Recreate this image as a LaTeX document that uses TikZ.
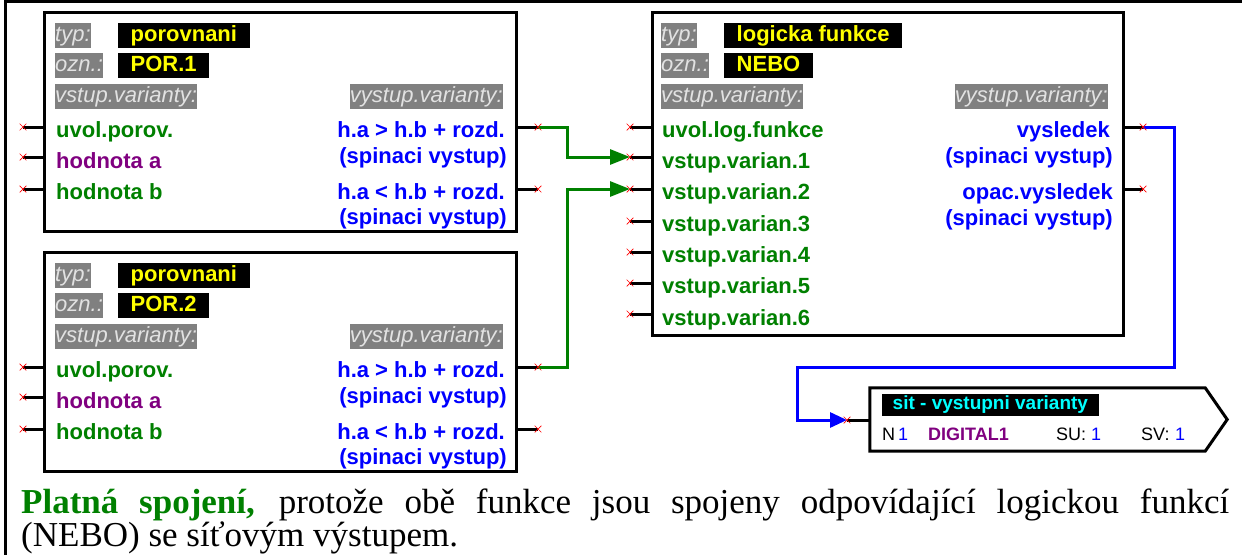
\documentclass[tikz,border=0pt]{standalone}
\usepackage{fontspec}
\setmainfont{Liberation Serif}
\setsansfont{Liberation Sans}
\usetikzlibrary{arrows.meta,shapes.misc}

\definecolor{lgreen}{RGB}{0,128,0}
\definecolor{lpurple}{RGB}{128,0,128}
\definecolor{lblue}{RGB}{0,0,255}
\definecolor{lyellow}{RGB}{255,255,0}
\definecolor{lcyan}{RGB}{0,255,255}
\definecolor{lgray}{RGB}{128,128,128}
\definecolor{labtext}{RGB}{226,226,226}

\newcommand{\sfbig}{\sffamily\fontsize{22}{22}\selectfont}
\newcommand{\sfsmall}{\sffamily\fontsize{18}{18}\selectfont}

\begin{document}
\begin{tikzpicture}[x=1pt,y=-1pt,
  blk/.style={draw, line width=3pt, fill=white, inner sep=0pt},
  lab/.style={fill=lgray, text=labtext, font=\sfbig\itshape, inner xsep=0pt,
    inner ysep=2pt, text height=16pt, text depth=5pt},
  tag/.style={fill=black, text=lyellow, font=\sfbig\bfseries, inner xsep=12.5pt,
    inner ysep=2pt, text height=16pt, text depth=5pt, anchor=north west},
  sig/.style={font=\sfbig\bfseries, inner sep=0pt},
  insig/.style={sig, anchor=base west},
  outsig/.style={sig, text=lblue, anchor=base east},
  stub/.style={line width=3pt, line cap=butt},
  xm/.style={cross out, draw=red, line width=0.7pt, minimum size=6pt, inner sep=0pt},
  gconn/.style={draw=lgreen, line width=3pt, -{Triangle[length=20pt,width=15pt]}},
  bconn/.style={draw=lblue, line width=3pt, -{Triangle[length=17pt,width=15pt]}},
  small/.style={font=\sfsmall, inner sep=0pt, anchor=base west},
  captext/.style={anchor=base west, inner sep=0pt, font=\rmfamily\fontsize{35}{36}\selectfont}
]
\useasboundingbox (0,0) rectangle (1242,555);

% outer frame (top and left edges only)
\draw[line width=3pt] (1242,1.5) -- (5.5,1.5) -- (5.5,555);

% ---------- two comparator blocks ----------
\foreach \k/\dy in {1/0,2/240}{
  \node[blk, minimum width=472pt, minimum height=219pt] (b\k) at (280,121.5+\dy) {};
  \node[lab, anchor=north west] (b\k-typ) at (55,23+\dy) {typ:};
  \node[tag] (b\k-typv) at (118,23+\dy) {porovnani};
  \node[lab, anchor=north west] (b\k-ozn) at (55,53+\dy) {ozn.:};
  \node[tag] (b\k-oznv) at (118,53+\dy) {POR.\k};
  \node[lab, anchor=north west] (b\k-vst) at (55,84+\dy) {vstup.varianty:};
  \node[lab, anchor=north east] (b\k-vys) at (503,84+\dy) {vystup.varianty:};
  \node[insig, text=lgreen]  (b\k-t1) at (56,137+\dy) {uvol.porov.};
  \node[insig, text=lpurple] (b\k-t2) at (56,168+\dy) {hodnota a};
  \node[insig, text=lgreen]  (b\k-t3) at (56,199+\dy) {hodnota b};
  \node[outsig] (b\k-r1) at (505,137+\dy) {h.a > h.b + rozd.};
  \node[outsig] (b\k-r2) at (507,163+\dy) {(spinaci vystup)};
  \node[outsig] (b\k-r3) at (505,199+\dy) {h.a < h.b + rozd.};
  \node[outsig] (b\k-r4) at (507,224+\dy) {(spinaci vystup)};
  % input pins
  \foreach \py [count=\j] in {127,157,189}{
    \coordinate (b\k-in\j) at (23,\py+\dy);
    \draw[stub] (b\k-in\j) -- (b\k.west |- b\k-in\j);
  }
  % output pins
  \foreach \py [count=\j] in {127,189}{
    \coordinate (b\k-out\j) at (538,\py+\dy);
    \draw[stub] (b\k.east |- b\k-out\j) -- (b\k-out\j);
  }
}

% ---------- logic function block ----------
\node[blk, minimum width=471pt, minimum height=323pt] (lf) at (887.5,173.5) {};
\node[lab, anchor=north west] (lf-typ) at (661,23) {typ:};
\node[tag] (lf-typv) at (724,23) {logicka funkce};
\node[lab, anchor=north west] (lf-ozn) at (661,53) {ozn.:};
\node[tag] (lf-oznv) at (724,53) {NEBO};
\node[lab, anchor=north west] (lf-vst) at (661,84) {vstup.varianty:};
\node[lab, anchor=north east] (lf-vys) at (1108,84) {vystup.varianty:};
\node[insig, text=lgreen] (lf-t1) at (662,137) {uvol.log.funkce};
\foreach \by [count=\j] in {168,199,231,262,293,325}{
  \node[insig, text=lgreen] (lf-v\j) at (662,\by) {vstup.varian.\j};
}
\node[outsig] (lf-r1) at (1110,137) {vysledek};
\node[outsig] (lf-r2) at (1113,163) {(spinaci vystup)};
\node[outsig] (lf-r3) at (1113,199) {opac.vysledek};
\node[outsig] (lf-r4) at (1113,225) {(spinaci vystup)};
\foreach \py [count=\j] in {127,157,189,221,252,283,314}{
  \coordinate (lf-in\j) at (630,\py);
  \draw[stub] (lf-in\j) -- (lf.west |- lf-in\j);
}
\foreach \py [count=\j] in {127,189}{
  \coordinate (lf-out\j) at (1143,\py);
  \draw[stub] (lf.east |- lf-out\j) -- (lf-out\j);
}

% ---------- network output block ----------
\node[inner sep=0pt, minimum width=357pt, minimum height=63pt] (net) at (1048.5,419.5) {};
\draw[blk] (net.north west) -- ([xshift=-22pt]net.north east) -- (net.east)
  -- ([xshift=-22pt]net.south east) -- (net.south west) -- cycle;
\node[fill=black, text=lcyan, font=\sffamily\bfseries\fontsize{19}{19}\selectfont,
  inner xsep=10.5pt, inner ysep=2.5pt, text height=13pt, text depth=4pt,
  anchor=north west] (net-title) at (882,394) {sit - vystupni varianty};
\node[small] (net-n) at (882,440) {N};
\node[small, text=lblue] (net-nv) at (898,440) {1};
\node[small, text=lpurple, font=\sfsmall\bfseries] (net-dig) at (928,440) {DIGITAL1};
\node[small] (net-su) at (1056,440) {SU:};
\node[small, text=lblue] (net-suv) at (1091,440) {1};
\node[small] (net-sv) at (1141,440) {SV:};
\node[small, text=lblue] (net-svv) at (1175,440) {1};
\coordinate (net-in) at (847,420);
\draw[stub] (net-in) -- (net.west |- net-in);

% ---------- connections ----------
\draw[gconn] (b1-out1) -- ++(29,0) |- (lf-in2);
\draw[gconn] (b2-out1) -- ++(29,0) |- (lf-in3);
\coordinate (jog) at (797,367);
\draw[bconn] (lf-out1) -- ++(31,0) |- (jog) |- (net-in);

% red markers at free pin ends
\foreach \k in {1,2}{
  \foreach \j in {1,2,3}{ \node[xm] (b\k-xi\j) at (b\k-in\j) {}; }
  \foreach \j in {1,2}{ \node[xm] (b\k-xo\j) at (b\k-out\j) {}; }
}
\foreach \j in {1,...,7}{ \node[xm] (lf-xi\j) at (lf-in\j) {}; }
\foreach \j in {1,2}{ \node[xm] (lf-xo\j) at (lf-out\j) {}; }
\node[xm] (net-xi) at (net-in) {};

% ---------- caption ----------
\node[captext] (cap1) at (21,513)
  {\makebox[1208pt][s]{\textcolor{lgreen}{\bfseries Platná spojení,} protože obě funkce jsou spojeny odpovídající logickou funkcí}};
\node[captext] (cap2) at (21,546.5) {(NEBO) se síťovým výstupem.};
\end{tikzpicture}
\end{document}
